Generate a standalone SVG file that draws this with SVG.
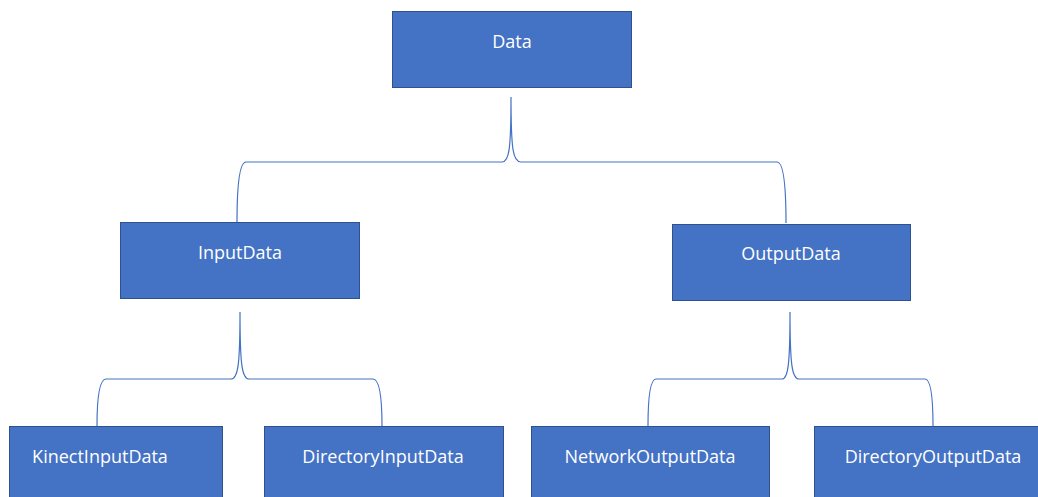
<svg xmlns="http://www.w3.org/2000/svg" width="1038" height="497" viewBox="0 0 1038 497">
  <style>
    .box { fill: #4472C4; stroke: #2F528F; stroke-width: 1; }
    .lbl { font-family: "Open Sans", "Liberation Sans", sans-serif; font-size: 18px; fill: #FFFFFF; text-anchor: middle; }
    .brace { fill: none; stroke: #4472C4; stroke-width: 1.2; }
  </style>
  <rect width="1038" height="497" fill="#FFFFFF"/>
  <g id="connectors">
    <path class="brace" d="M 237,222 C 237,190 239,162 246,162 L 502,162 C 509,162 511,150 511,97 C 511,150 513,162 521,162 L 777,162 C 784,162 786,190 786,223"/>
    <path class="brace" d="M 97,426 C 97,400 99,379 106,379 L 231,379 C 238,379 240,365 240,312 C 240,365 242,379 249,379 L 373,379 C 380,379 382,400 382,426"/>
    <path class="brace" d="M 648,426 C 648,400 650,379 656,379 L 782,379 C 788,379 790,365 790,312 C 790,365 792,379 799,379 L 925,379 C 931,379 933,400 933,426"/>
  </g>
  <g id="node-data">
    <rect class="box" x="392.5" y="11.5" width="239" height="76"/>
    <text class="lbl" x="512" y="48">Data</text>
  </g>
  <g id="node-inputdata">
    <rect class="box" x="120.5" y="222.5" width="239" height="76"/>
    <text class="lbl" x="240" y="259">InputData</text>
  </g>
  <g id="node-outputdata">
    <rect class="box" x="672.5" y="224.5" width="238" height="76"/>
    <text class="lbl" x="791" y="260">OutputData</text>
  </g>
  <g id="node-kinectinputdata">
    <rect class="box" x="9.5" y="426.5" width="213" height="76"/>
    <text class="lbl" x="100" y="463">KinectInputData</text>
  </g>
  <g id="node-directoryinputdata">
    <rect class="box" x="264.5" y="426.5" width="239" height="76"/>
    <text class="lbl" x="383" y="463">DirectoryInputData</text>
  </g>
  <g id="node-networkoutputdata">
    <rect class="box" x="531.5" y="426.5" width="238" height="76"/>
    <text class="lbl" x="650" y="463">NetworkOutputData</text>
  </g>
  <g id="node-directoryoutputdata">
    <rect class="box" x="814.5" y="426.5" width="238" height="76"/>
    <text class="lbl" x="933" y="463">DirectoryOutputData</text>
  </g>
</svg>
